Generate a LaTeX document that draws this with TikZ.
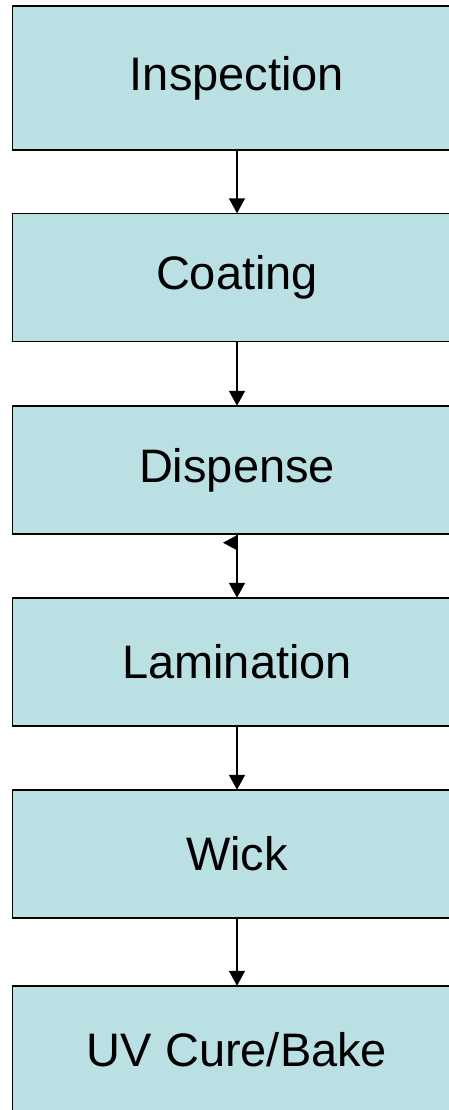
\documentclass[tikz,border=0pt]{standalone}
\usepackage{fontspec}
\setmainfont{Liberation Sans}
\usetikzlibrary{arrows.meta}
\definecolor{boxfill}{RGB}{187,224,227}
\pgfdeclarelayer{bg}
\pgfsetlayers{bg,main}
\begin{document}
\begin{tikzpicture}[x=1pt,y=-1pt,
  stepbox/.style={rectangle, minimum width=449pt, inner sep=0pt,
    font=\fontsize{47}{56}\selectfont},
  boxshape/.style={draw=black, line width=1.5pt, fill=boxfill},
  arr/.style={draw=black, line width=1.5pt, -{Triangle[length=15pt,width=16pt]}}]
\useasboundingbox (0,0) rectangle (448,1110);
\clip (0,0) rectangle (448,1110);
\node[stepbox, minimum height=144pt] (b1) at (237,78) {Inspection};
\node[stepbox, minimum height=128pt] (b2) at (237,277.5) {Coating};
\node[stepbox, minimum height=128pt] (b3) at (237,470) {Dispense};
\node[stepbox, minimum height=128pt] (b4) at (237,662) {Lamination};
\node[stepbox, minimum height=128pt] (b5) at (237,854) {Wick};
\node[stepbox, minimum height=128pt] (b6) at (237,1050) {UV Cure/Bake};
\begin{pgfonlayer}{bg}
\foreach \n in {b1,b2,b3,b4,b5}
  \path[boxshape] (\n.north west) rectangle ([xshift=40pt]\n.south east);
\path[boxshape] (b6.north west) rectangle ([xshift=40pt,yshift=-20pt]b6.south east);
\end{pgfonlayer}
\draw[arr] (b1.south) -- (b2.north);
\draw[arr] (b2.south) -- (b3.north);
\draw[arr] (b3.south) -- (b4.north);
\draw[arr] (b4.south) -- (b5.north);
\draw[arr] (b5.south) -- (b6.north);
\coordinate (tipbase) at ([yshift=-8.5pt]b3.south);
\fill[black] ([yshift=-7.5pt]tipbase) -- ([yshift=7.5pt]tipbase) -- ([xshift=-14pt]tipbase) -- cycle;
\end{tikzpicture}
\end{document}
